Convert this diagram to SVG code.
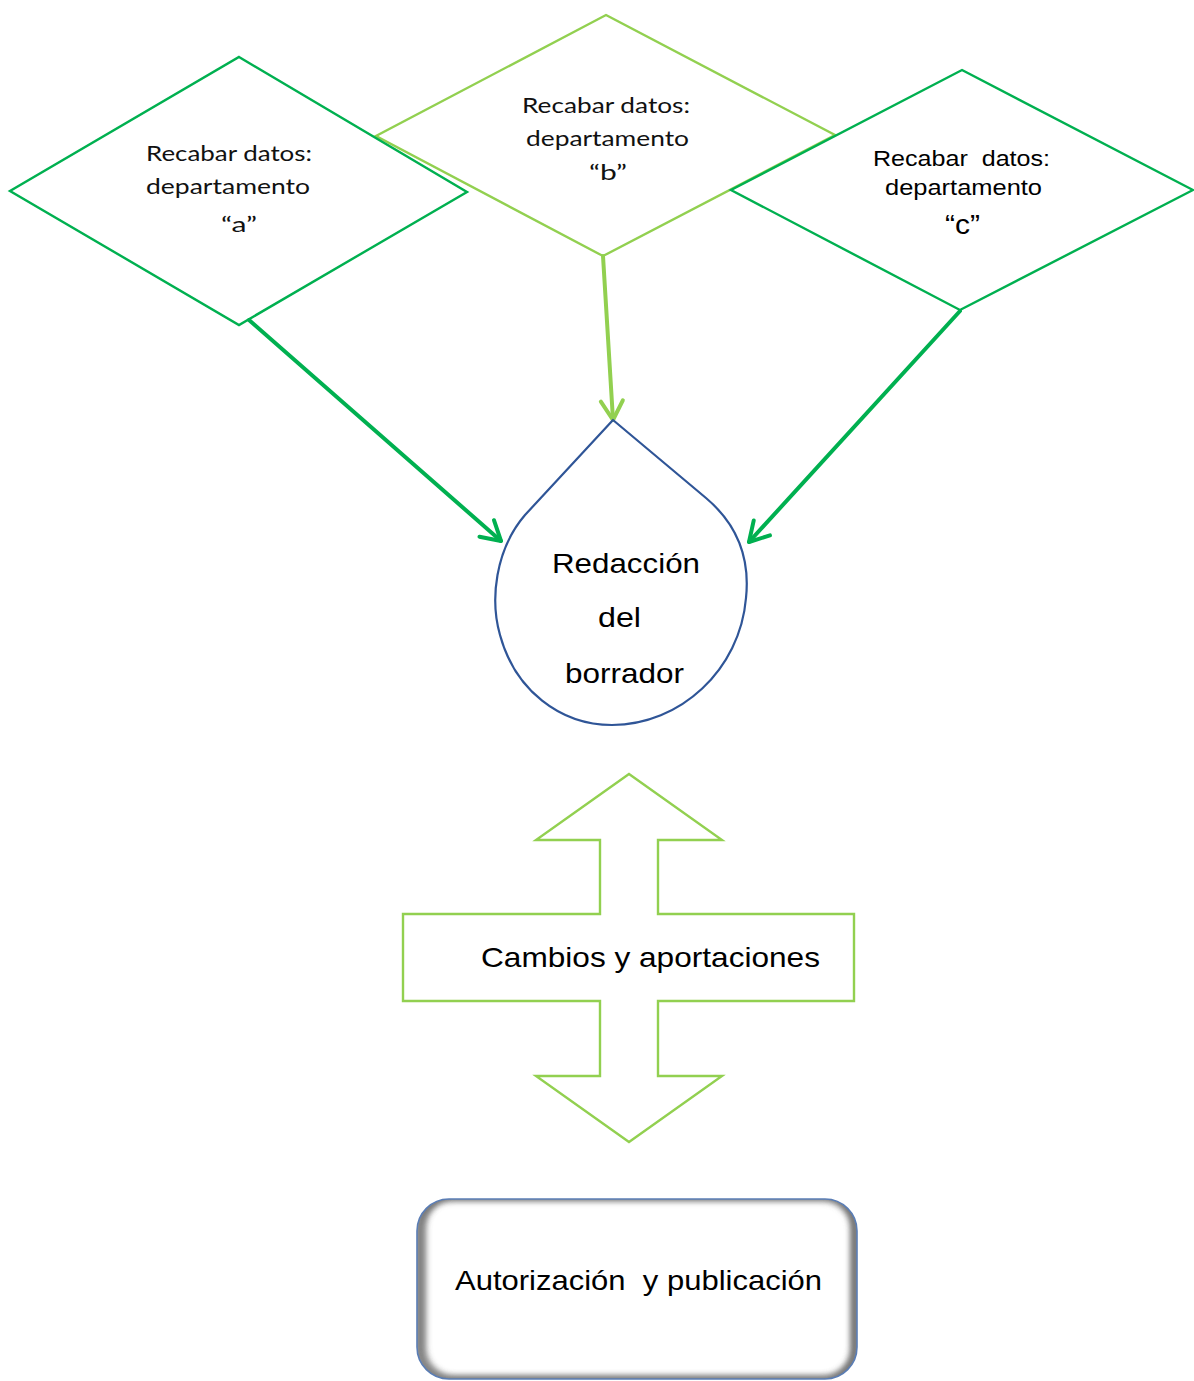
<svg xmlns="http://www.w3.org/2000/svg" width="1194" height="1381" viewBox="0 0 1194 1381">
  <style>
    .dk { fill: none; stroke: #00B050; stroke-width: 2.4; stroke-linejoin: miter; }
    .lt { fill: none; stroke: #92D050; stroke-width: 2.4; }
    .cal { font-family: Lato, "Open Sans", sans-serif; font-size: 22px; fill: #111; }
    .ari { font-family: "Liberation Sans", Arial, sans-serif; fill: #000; }
    .conn-dk { stroke: #00B050; stroke-width: 4; fill: none; stroke-linecap: round; }
    .conn-lt { stroke: #92D050; stroke-width: 4; fill: none; stroke-linecap: round; }
  </style>
  <defs>
    <marker id="headDk" markerUnits="userSpaceOnUse" markerWidth="40" markerHeight="40" refX="0" refY="0" orient="auto" overflow="visible">
      <path d="M-19,-11 L0,0 L-19,11" fill="none" stroke="#00B050" stroke-width="4" stroke-linecap="round" stroke-linejoin="round"/>
    </marker>
    <marker id="headLt" markerUnits="userSpaceOnUse" markerWidth="40" markerHeight="40" refX="0" refY="0" orient="auto" overflow="visible">
      <path d="M-19,-11 L0,0 L-19,11" fill="none" stroke="#92D050" stroke-width="4" stroke-linecap="round" stroke-linejoin="round"/>
    </marker>
    <filter id="blur" x="-20%" y="-20%" width="140%" height="140%">
      <feGaussianBlur stdDeviation="3"/>
    </filter>
    <clipPath id="boxClip">
      <rect x="417" y="1199" width="440" height="180" rx="32" ry="32"/>
    </clipPath>
  </defs>

  <rect width="1194" height="1381" fill="#fff"/>

  <!-- Diamond b -->
  <g id="node-b">
    <polygon class="lt" points="606,15 835,135 603,256 376,136"/>
    <text class="cal" x="522" y="113" textLength="168" lengthAdjust="spacingAndGlyphs">Recabar datos:</text>
    <text class="cal" x="526" y="146" textLength="163" lengthAdjust="spacingAndGlyphs">departamento</text>
    <text class="cal" x="589" y="180" textLength="38" lengthAdjust="spacingAndGlyphs">“b”</text>
  </g>

  <!-- Diamond a -->
  <g id="node-a">
    <polygon class="dk" points="239,57 467,192 239,325 10,191"/>
    <text class="cal" x="146" y="161" textLength="166" lengthAdjust="spacingAndGlyphs">Recabar datos:</text>
    <text class="cal" x="146" y="194" textLength="164" lengthAdjust="spacingAndGlyphs">departamento</text>
    <text class="cal" x="221" y="232" textLength="36" lengthAdjust="spacingAndGlyphs">“a”</text>
  </g>

  <!-- Diamond c -->
  <g id="node-c">
    <polygon class="dk" points="962,70 1193,190 960,310 731,190"/>
    <text class="ari" font-size="22" x="873" y="166" textLength="177" lengthAdjust="spacingAndGlyphs">Recabar&#160; datos:</text>
    <text class="ari" font-size="22" x="885" y="195" textLength="157" lengthAdjust="spacingAndGlyphs">departamento</text>
    <text class="ari" font-size="28" x="945" y="234" textLength="35" lengthAdjust="spacingAndGlyphs">“c”</text>
  </g>

  <!-- Connectors -->
  <g id="connectors">
    <line class="conn-dk" x1="249" y1="320" x2="501" y2="541" marker-end="url(#headDk)"/>
    <line class="conn-lt" x1="603" y1="256" x2="613" y2="420" marker-end="url(#headLt)"/>
    <line class="conn-dk" x1="960" y1="311" x2="749" y2="542" marker-end="url(#headDk)"/>
  </g>

  <!-- Drop: Redacción del borrador -->
  <g id="node-redaccion">
    <path d="M613,420 L525,515 C495,550 490,600 500,635 C515,690 560,725 612,725 C680,725 740,670 746,598 C750,560 738,525 706,498 Z" fill="none" stroke="#2F5597" stroke-width="2.2" stroke-linejoin="round"/>
    <text class="ari" font-size="28" x="552" y="573" textLength="148" lengthAdjust="spacingAndGlyphs">Redacción</text>
    <text class="ari" font-size="28" x="598" y="627" textLength="43" lengthAdjust="spacingAndGlyphs">del</text>
    <text class="ari" font-size="28" x="565" y="683" textLength="119" lengthAdjust="spacingAndGlyphs">borrador</text>
  </g>

  <!-- Double arrow: Cambios y aportaciones -->
  <g id="node-cambios">
    <polygon class="lt" points="629,774 722,840 658,840 658,914 854,914 854,1001 658,1001 658,1076 722,1076 629,1142 536,1076 600,1076 600,1001 403,1001 403,914 600,914 600,840 536,840"/>
    <text class="ari" font-size="28" x="481" y="967" textLength="339" lengthAdjust="spacingAndGlyphs">Cambios y aportaciones</text>
  </g>

  <!-- Rounded box: Autorización y publicación -->
  <g id="node-autorizacion">
    <rect x="417" y="1199" width="440" height="180" rx="32" ry="32" fill="#fff"/>
    <g clip-path="url(#boxClip)">
      <rect x="419" y="1197" width="436" height="184" rx="32" ry="32" fill="none" stroke="#7a7a7a" stroke-width="8" filter="url(#blur)"/>
      <rect x="423" y="1195" width="432" height="184" rx="32" ry="32" fill="none" stroke="#555" stroke-width="6" filter="url(#blur)" opacity="0.6"/>
    </g>
    <rect x="417" y="1199" width="440" height="180" rx="32" ry="32" fill="none" stroke="#5A7DB5" stroke-width="1.6"/>
    <text class="ari" font-size="28" x="455" y="1290" textLength="367" lengthAdjust="spacingAndGlyphs">Autorización&#160; y publicación</text>
  </g>
</svg>
